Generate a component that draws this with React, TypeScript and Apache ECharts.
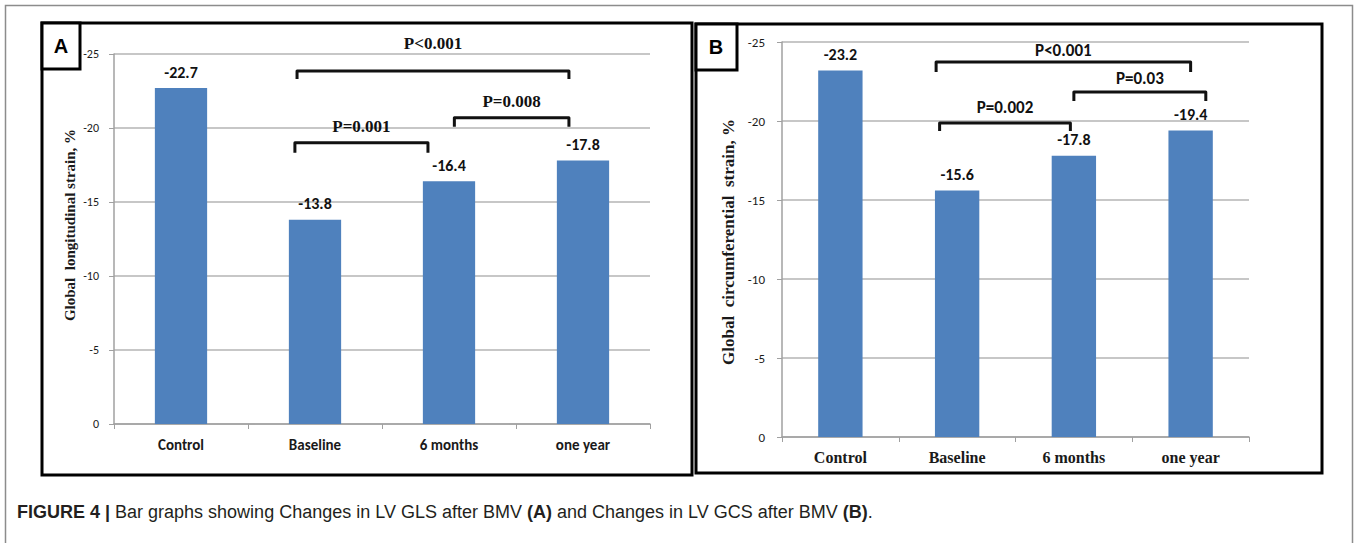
import React, { useEffect, useRef } from "react";
import * as echarts from "echarts";

// Categories shared by both panels
const categories = ["Control", "Baseline", "6 months", "one year"];

// Panel A: global longitudinal strain (%)
const glsValues = [-22.7, -13.8, -16.4, -17.8];
// Panel B: global circumferential strain (%)
const gcsValues = [-23.2, -15.6, -17.8, -19.4];

// Significance brackets: [fromCategory, toCategory, level (strain %)]
const glsBrackets = [
  [1, 3, -23.85],
  [2, 3, -20.7],
  [1, 2, -19.0],
];
const glsBracketLabels = ["P<0.001", "P=0.008", "P=0.001"];

const gcsBrackets = [
  [1, 3, -23.73],
  [2, 3, -21.84],
  [1, 2, -19.87],
];
const gcsBracketLabels = ["P<0.001", "P=0.03", "P=0.002"];

// Bracket end nudges (fraction of a category band) and label gaps (px)
const glsBracketLayout = [
  { dx1: -0.134, dx2: -0.105, gap: 28, drop: 8 },
  { dx1: 0.04, dx2: -0.105, gap: 16, drop: 9 },
  { dx1: -0.15, dx2: -0.157, gap: 16, drop: 10 },
];
const gcsBracketLayout = [
  { dx1: -0.18, dx2: 0.0, gap: 12, drop: 10 },
  { dx1: 0.0, dx2: 0.13, gap: 13, drop: 9 },
  { dx1: -0.15, dx2: -0.03, gap: 16, drop: 8 },
];

const BAR = "#4f81bd";
const GRID_LINE = "#b4b4b4";
const SANS_NARROW = "Carlito, Lato, 'Liberation Sans', sans-serif";
const SERIF = "'Liberation Serif', 'DejaVu Serif', serif";
const CAPTION_FONT = "'Liberation Sans', Arial, sans-serif";

function bracketSeries(
  gridIdx: number,
  brackets: number[][],
  labels: string[],
  layout: { dx1: number; dx2: number; gap: number; drop: number }[],
  font: { family: string; size: number; weight: string }
) {
  return {
    type: "custom",
    xAxisIndex: gridIdx,
    yAxisIndex: gridIdx,
    clip: false,
    silent: true,
    data: brackets.map((b) => ({ value: b })),
    encode: { x: 0, y: 2 },
    renderItem: (params: any, api: any) => {
      const i = params.dataIndex;
      const lay = layout[i];
      const band = api.size([1, 0])[0];
      const p1 = api.coord([api.value(0), api.value(2)]);
      const p2 = api.coord([api.value(1), api.value(2)]);
      const x1 = p1[0] + lay.dx1 * band;
      const x2 = p2[0] + lay.dx2 * band;
      const y = p1[1];
      return {
        type: "group",
        children: [
          {
            type: "polyline",
            shape: {
              points: [
                [x1, y + lay.drop],
                [x1, y],
                [x2, y],
                [x2, y + lay.drop],
              ],
            },
            style: {
              stroke: "#111",
              lineWidth: 3,
              fill: null,
              lineJoin: "round",
              lineCap: "butt",
            },
          },
          {
            type: "text",
            x: (x1 + x2) / 2,
            y: y - lay.gap,
            style: {
              text: labels[i],
              fill: "#111",
              font: `${font.weight} ${font.size}px ${font.family}`,
              textAlign: "center",
              textVerticalAlign: "middle",
            },
          },
        ],
      };
    },
  };
}

export default function App() {
  const ref = useRef<HTMLDivElement>(null);

  useEffect(() => {
    if (!ref.current) return;
    const chart = echarts.init(ref.current, undefined, { renderer: "svg" });

    const xAxisBase = (gridIndex: number, labelFont: any, margin: number) => ({
      type: "category",
      gridIndex,
      data: categories,
      axisLine: { show: true, lineStyle: { color: "#a0a0a0", width: 1.5 } },
      axisTick: { show: true, length: 5, lineStyle: { color: "#a0a0a0" } },
      axisLabel: { ...labelFont, color: "#1a1a1a", margin },
      splitLine: { show: false },
    });

    const yAxisBase = (
      gridIndex: number,
      labelFont: any,
      labelMargin: number,
      name: string,
      nameFont: any,
      nameGap: number,
      namePad: number[]
    ) => ({
      type: "value",
      gridIndex,
      min: -25,
      max: 0,
      interval: 5,
      inverse: true,
      name,
      nameLocation: "middle",
      nameRotate: 90,
      nameGap,
      nameTextStyle: { ...nameFont, color: "#1a1a1a", padding: namePad },
      axisLine: { show: true, lineStyle: { color: "#a0a0a0", width: 1.5 } },
      axisTick: { show: true, length: 5, lineStyle: { color: "#a0a0a0" } },
      axisLabel: { ...labelFont, color: "#1a1a1a", margin: labelMargin },
      splitLine: { show: true, lineStyle: { color: GRID_LINE, width: 1.5 } },
    });

    const valueLabel = {
      show: true,
      position: "top",
      distance: 8,
      formatter: (p: any) => p.value.toFixed(1),
      fontFamily: SANS_NARROW,
      fontWeight: "bold",
      fontSize: 16,
      color: "#111",
    };

    chart.setOption({
      animation: false,
      backgroundColor: "#ffffff",
      grid: [
        { left: 114, right: 707, top: 54, bottom: 119 },
        { left: 782, right: 108, top: 42, bottom: 106 },
      ],
      xAxis: [
        xAxisBase(0, { fontFamily: SANS_NARROW, fontWeight: "bold", fontSize: 15 }, 13),
        xAxisBase(1, { fontFamily: SERIF, fontWeight: "bold", fontSize: 16 }, 12),
      ],
      yAxis: [
        yAxisBase(
          0,
          { fontFamily: SANS_NARROW, fontSize: 12 },
          15,
          "Global  longitudinal strain, %",
          { fontFamily: SERIF, fontWeight: "bold", fontSize: 15 },
          37,
          [0, 0, 0, 28]
        ),
        yAxisBase(
          1,
          { fontFamily: SANS_NARROW, fontSize: 13 },
          17,
          "Global  circumferential  strain, %",
          { fontFamily: SERIF, fontWeight: "bold", fontSize: 17 },
          45,
          [0, 5, 0, 0]
        ),
      ],
      series: [
        {
          type: "bar",
          xAxisIndex: 0,
          yAxisIndex: 0,
          data: glsValues,
          barWidth: "39%",
          itemStyle: { color: BAR },
          label: valueLabel,
        },
        {
          type: "bar",
          xAxisIndex: 1,
          yAxisIndex: 1,
          data: gcsValues,
          barWidth: "38%",
          itemStyle: { color: BAR },
          label: valueLabel,
        },
        bracketSeries(0, glsBrackets, glsBracketLabels, glsBracketLayout, {
          family: SERIF,
          size: 17,
          weight: "bold",
        }),
        bracketSeries(1, gcsBrackets, gcsBracketLabels, gcsBracketLayout, {
          family: SANS_NARROW,
          size: 17,
          weight: "bold",
        }),
      ],
      graphic: [
        // outer figure frame
        {
          type: "rect",
          shape: { x: 5.5, y: 5.5, width: 1347, height: 600 },
          style: { fill: null, stroke: "#8c8c8c", lineWidth: 1.5 },
          silent: true,
        },
        // panel frames
        {
          type: "rect",
          shape: { x: 42, y: 23, width: 650, height: 452 },
          style: { fill: null, stroke: "#000", lineWidth: 3 },
          silent: true,
        },
        {
          type: "rect",
          shape: { x: 696, y: 24, width: 626, height: 449 },
          style: { fill: null, stroke: "#000", lineWidth: 3 },
          silent: true,
        },
        // panel letters
        {
          type: "rect",
          shape: { x: 42, y: 23, width: 38, height: 46 },
          style: { fill: "#fff", stroke: "#000", lineWidth: 3 },
          silent: true,
        },
        {
          type: "text",
          x: 61,
          y: 46,
          style: {
            text: "A",
            font: `bold 20px ${CAPTION_FONT}`,
            fill: "#000",
            textAlign: "center",
            textVerticalAlign: "middle",
          },
        },
        {
          type: "rect",
          shape: { x: 696, y: 24, width: 41, height: 46 },
          style: { fill: "#fff", stroke: "#000", lineWidth: 3 },
          silent: true,
        },
        {
          type: "text",
          x: 716,
          y: 47,
          style: {
            text: "B",
            font: `bold 20px ${CAPTION_FONT}`,
            fill: "#000",
            textAlign: "center",
            textVerticalAlign: "middle",
          },
        },
        // caption
        {
          type: "text",
          x: 17,
          y: 512,
          style: {
            text:
              "{b|FIGURE 4 | }{r|Bar graphs showing Changes in LV GLS after BMV }{b|(A)}{r| and Changes in LV GCS after BMV }{b|(B)}{r|.}",
            textVerticalAlign: "middle",
            rich: {
              b: { font: `bold 18px ${CAPTION_FONT}`, fill: "#231f20" },
              r: { font: `18px ${CAPTION_FONT}`, fill: "#231f20" },
            },
          },
        },
      ],
    });

    return () => chart.dispose();
  }, []);

  return (
    <div
      ref={ref}
      style={{ position: "fixed", left: 0, top: 0, width: 1357, height: 543 }}
    />
  );
}
